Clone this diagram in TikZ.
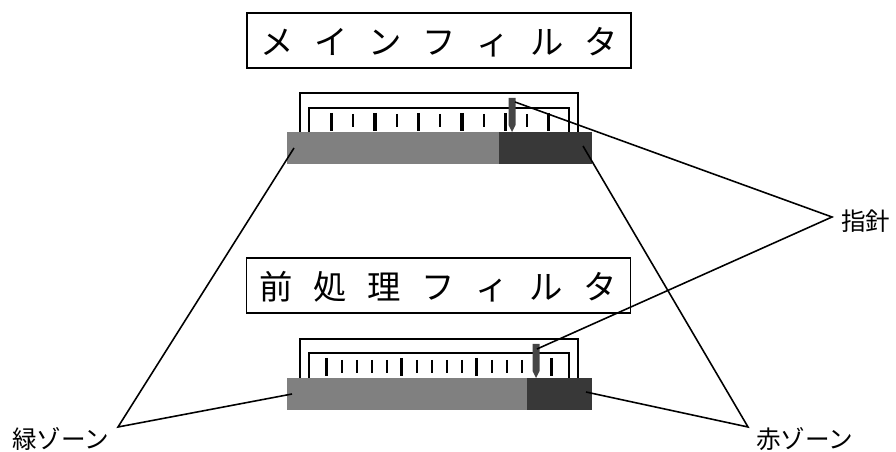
\documentclass[tikz,border=0pt]{standalone}
\usepackage{fontspec}
\setmainfont{Noto Sans CJK JP}
\definecolor{zonegreen}{gray}{0.5}
\definecolor{zonered}{gray}{0.22}
\definecolor{needlegray}{gray}{0.27}
\tikzset{
  titlechar/.style={font=\fontsize{19}{19}\selectfont, inner sep=0pt, anchor=base},
  titlebox/.style={draw, line width=0.8pt, minimum width=7.68cm, minimum height=1.1cm, inner sep=0pt},
  zonelabel/.style={font=\fontsize{14}{14}\selectfont, inner sep=0pt, anchor=base west},
  gaugeframe/.style={line width=1.4pt},
  bigtick/.style={line width=2pt},
  smalltick/.style={line width=1.1pt},
  needle/.style={fill=needlegray},
  leader/.style={line width=0.9pt}
}
\begin{document}
\begin{tikzpicture}[x=0.02cm,y=-0.02cm]
\useasboundingbox (0,0) rectangle (896,452);

% main filter
\node[titlebox] (mainbox) at (439,40.5) {};
\foreach \c [count=\i from 0] in {メ,イ,ン,フ,ィ,ル,タ}
  \node[titlechar] (main\i) at (277+54*\i,55) {\c};

\draw[gaugeframe] (300,132) -- (300,93) -- (578,93) -- (578,132);
\draw[gaugeframe] (309,132) -- (309,108) -- (569,108) -- (569,132);
\fill[zonegreen] (287,132) rectangle (499,164);
\fill[zonered] (499,132) rectangle (592,164);
\foreach \k in {0,2,...,10}
  \draw[bigtick] (331.7+21.7*\k,113) -- (331.7+21.7*\k,131);
\foreach \k in {1,3,...,9}
  \draw[smalltick] (331.7+21.7*\k,114) -- (331.7+21.7*\k,127);
\fill[needle] (508.5,98) -- (515.5,98) -- (515.5,125) -- (512,132) -- (508.5,125) -- cycle;

% pre-filter
\node[titlebox] (prebox) at (438.5,285.5) {};
\foreach \c [count=\i from 0] in {前,処,理,フ,ィ,ル,タ}
  \node[titlechar] (pre\i) at (276+54*\i,300) {\c};

\draw[gaugeframe] (300,378) -- (300,339) -- (578,339) -- (578,378);
\draw[gaugeframe] (309,378) -- (309,353) -- (569,353) -- (569,378);
\fill[zonegreen] (287,378) rectangle (527,410);
\fill[zonered] (527,378) rectangle (592,410);
\foreach \k in {0,5,10,15}
  \draw[bigtick] (326.7+15*\k,358) -- (326.7+15*\k,376);
\foreach \k in {1,2,3,4,6,7,8,9,11,12,13,14}
  \draw[smalltick] (326.7+15*\k,360) -- (326.7+15*\k,373);
\fill[needle] (532.5,344) -- (539.5,344) -- (539.5,371) -- (536,378) -- (532.5,371) -- cycle;

% labels
\node[zonelabel] (pointer) at (841,231) {指針};
\node[zonelabel] (green) at (12,449) {緑ゾーン};
\node[zonelabel] (red) at (756,449) {赤ゾーン};

\coordinate (ptrapex) at (832,217);
\coordinate (greenapex) at (118,427);
\coordinate (redapex) at (748,427);
\coordinate (mainneedle) at (515,102);
\coordinate (preneedle) at (537,349);
\coordinate (maingreen) at (294,148);
\coordinate (pregreen) at (292,394);
\coordinate (mainred) at (583,146);
\coordinate (prered) at (586,392);

\draw[leader] (mainneedle) -- (ptrapex) -- (preneedle);
\draw[leader] (maingreen) -- (greenapex) -- (pregreen);
\draw[leader] (mainred) -- (redapex) -- (prered);
\end{tikzpicture}
\end{document}
